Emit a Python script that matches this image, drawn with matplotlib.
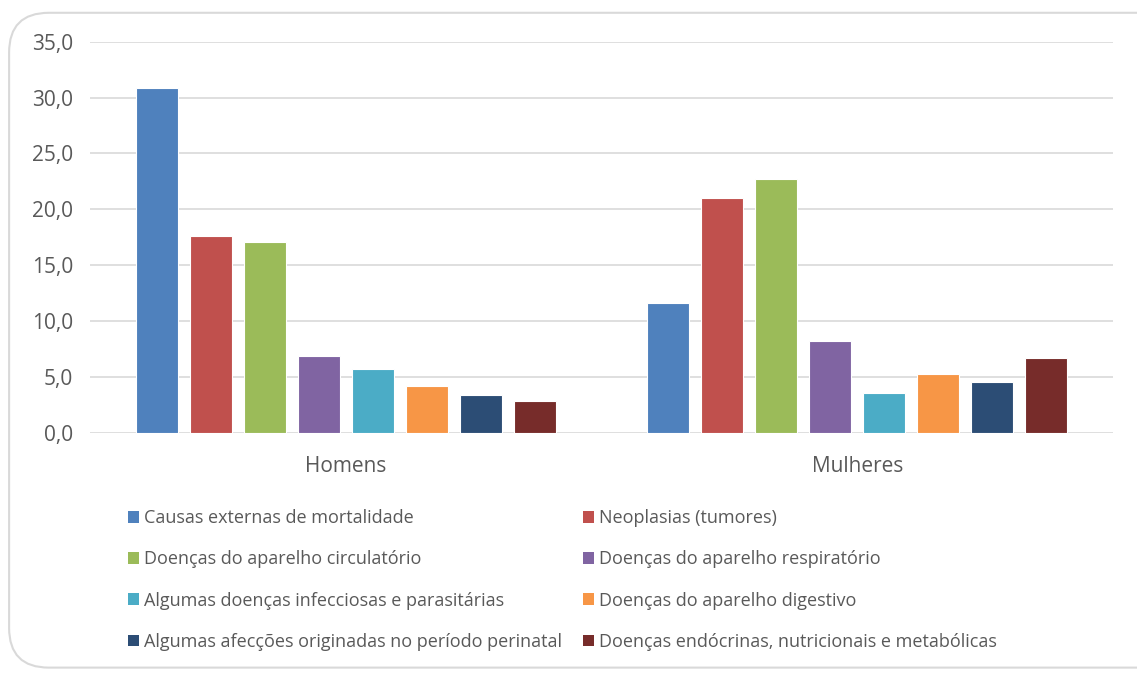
import matplotlib.pyplot as plt
import numpy as np
from matplotlib.patches import FancyBboxPatch, Patch

plt.rcParams["font.family"] = ["Open Sans", "DejaVu Sans"]

groups = ["Homens", "Mulheres"]
causes = [
    "Causas externas de mortalidade",
    "Neoplasias (tumores)",
    "Doenças do aparelho circulatório",
    "Doenças do aparelho respiratório",
    "Algumas doenças infecciosas e parasitárias",
    "Doenças do aparelho digestivo",
    "Algumas afecções originadas no período perinatal",
    "Doenças endócrinas, nutricionais e metabólicas",
]
homens = [30.9, 17.6, 17.1, 6.9, 5.7, 4.2, 3.4, 2.8]
mulheres = [11.6, 21.0, 22.7, 8.2, 3.6, 5.3, 4.5, 6.7]
colors = ["#4f81bd", "#c0504d", "#9bbb59", "#8064a2",
          "#4bacc6", "#f79646", "#2c4d75", "#772c2a"]
yticks = [0, 5, 10, 15, 20, 25, 30, 35]

text_color = "#595959"

fig = plt.figure(figsize=(11.37, 6.73), dpi=100)
# rounded chart-area frame, kept behind the axes
frame = FancyBboxPatch((0.008, 0.008), 1.2, 0.973,
                       boxstyle="round,pad=0,rounding_size=0.035",
                       transform=fig.transFigure, facecolor="white",
                       edgecolor="#d9d9d9", lw=1.5, zorder=-10,
                       mutation_aspect=11.37 / 6.73)
fig.patches.append(frame)

ax = fig.add_axes([0.079, 0.357, 0.9, 0.581])
ax.set_zorder(1)
x = np.arange(len(groups))
width = 0.082
pitch = 0.1055
values = np.array([homens, mulheres])
for i, (cause, color) in enumerate(zip(causes, colors)):
    offs = (i - (len(causes) - 1) / 2) * pitch
    ax.bar(x + offs, values[:, i], width, color=color, edgecolor="white",
           lw=0.8, zorder=3, label=cause)

ax.set_xlim(-0.5, 1.5)
ax.set_ylim(0, 35)
ax.set_yticks(yticks)
ax.set_yticklabels([f"{v:.1f}".replace(".", ",") for v in yticks])
ax.set_xticks(x)
ax.set_xticklabels(groups)
ax.grid(axis="y", color="#d9d9d9", lw=1.2, zorder=0)
for s in ax.spines.values():
    s.set_visible(False)
ax.tick_params(length=0, colors=text_color, labelsize=15)
ax.tick_params(axis="x", pad=17)
ax.tick_params(axis="y", pad=12)
ax.set_facecolor("none")

# legend reads row by row, two per row
handles = [Patch(facecolor=c, edgecolor="none") for c in colors]
order = [0, 2, 4, 6, 1, 3, 5, 7]
leg = fig.legend([handles[i] for i in order], [causes[i] for i in order],
                 ncol=2, loc="upper left", bbox_to_anchor=(0.106, 0.254),
                 frameon=False, fontsize=13, handlelength=0.6, handleheight=0.6,
                 handletextpad=0.3, columnspacing=1.15, labelspacing=1.28,
                 labelcolor=text_color, borderaxespad=0)

fig.savefig("out.png", dpi=100)
